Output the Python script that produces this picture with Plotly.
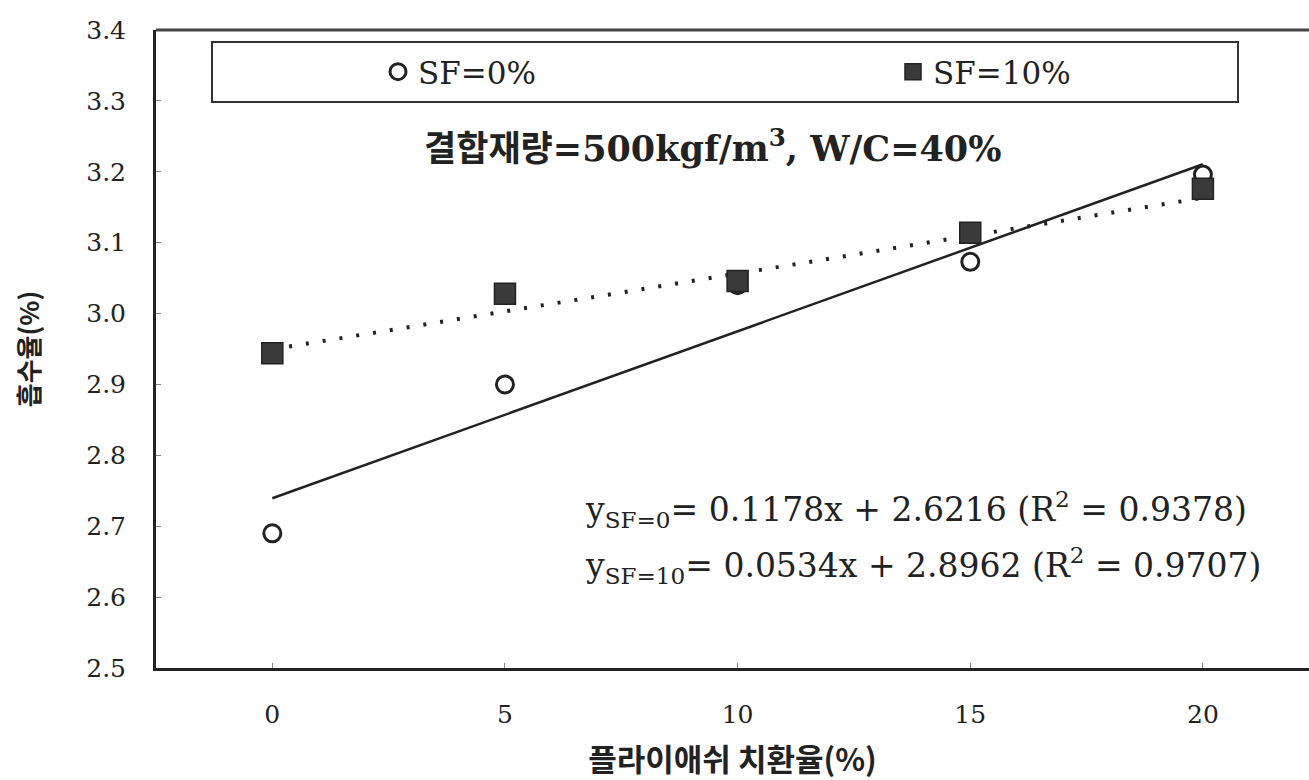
import numpy as np
import plotly.graph_objects as go

# ---- data ----
fa_ratio = [0, 5, 10, 15, 20]                  # 플라이애쉬 치환율 (%)
sf0_values = [2.69, 2.90, 3.04, 3.073, 3.196]   # SF=0%
sf10_values = [2.944, 3.028, 3.046, 3.114, 3.176]  # SF=10%
fit_sf0 = (0.1178, 2.6216)   # slope, intercept (x = index 1..5)
fit_sf10 = (0.0534, 2.8962)
y_ticks = [2.5, 2.6, 2.7, 2.8, 2.9, 3.0, 3.1, 3.2, 3.3, 3.4]
x_ticks = [0, 5, 10, 15, 20]

idx = np.arange(1, len(fa_ratio) + 1)
trend0 = fit_sf0[0] * idx + fit_sf0[1]
trend10 = fit_sf10[0] * idx + fit_sf10[1]

SERIF = "DejaVu Serif, Noto Sans CJK KR"
KR = "Noto Sans CJK KR"
INK = "#222"

fig = go.Figure()
fig.add_trace(go.Scatter(x=fa_ratio, y=trend0, mode="lines",
                         line=dict(color=INK, width=2.5), showlegend=False))
fig.add_trace(go.Scatter(x=fa_ratio, y=trend10, mode="lines",
                         line=dict(color=INK, width=4, dash="3px,14px"), showlegend=False))
fig.add_trace(go.Scatter(x=fa_ratio, y=sf0_values, mode="markers", name="SF=0%",
                         legend="legend",
                         marker=dict(symbol="circle-open", size=17, color=INK,
                                     line=dict(width=3, color=INK))))
fig.add_trace(go.Scatter(x=fa_ratio, y=sf10_values, mode="markers", name="SF=10%",
                         legend="legend2",
                         marker=dict(symbol="square", size=21, color="#3a3a3a",
                                     line=dict(width=1.5, color=INK))))

W, H = 1309, 780
L, R, T, B = 156, 0, 30, 112
pw, ph = W - L - R, H - T - B

def px(xp):
    return (xp - L) / pw

def py(yp):
    return (H - B - yp) / ph

shapes = [
    dict(type="rect", xref="paper", yref="paper",
         x0=px(212), x1=px(1238), y0=py(102), y1=py(42),
         line=dict(color="#333", width=2), fillcolor="rgba(0,0,0,0)"),
    dict(type="line", xref="paper", yref="paper", x0=0, x1=1, y0=1, y1=1,
         line=dict(color="#444", width=3)),
]

annotations = [
    dict(text="<b>결합재량=500kgf/m<sup>3</sup>, W/C=40%</b>", xref="paper", yref="paper",
         x=px(712), y=py(146), showarrow=False, xanchor="center", yanchor="middle",
         font=dict(family=SERIF, size=35, color=INK)),
    dict(text="y<sub>SF=0</sub>= 0.1178x + 2.6216 (R<sup>2</sup> = 0.9378)", xref="paper", yref="paper",
         x=px(583), y=py(509), showarrow=False, xanchor="left", yanchor="middle",
         font=dict(family=SERIF, size=33, color=INK)),
    dict(text="y<sub>SF=10</sub>= 0.0534x + 2.8962 (R<sup>2</sup> = 0.9707)", xref="paper", yref="paper",
         x=px(583), y=py(565), showarrow=False, xanchor="left", yanchor="middle",
         font=dict(family=SERIF, size=33, color=INK)),
]

leg_common = dict(orientation="h", yanchor="middle", xanchor="left",
                  bgcolor="rgba(0,0,0,0)", borderwidth=0,
                  font=dict(family=SERIF, size=31, color=INK))

fig.update_layout(
    width=W, height=H,
    margin=dict(l=L, r=R, t=T, b=B),
    paper_bgcolor="white", plot_bgcolor="white",
    font=dict(family=SERIF, color=INK),
    shapes=shapes,
    annotations=annotations,
    legend=dict(x=px(378), y=py(72), **leg_common),
    legend2=dict(x=px(893), y=py(72), **leg_common),
    xaxis=dict(range=[-2.5, 22.28], tickvals=x_ticks, ticktext=[str(v) for v in x_ticks],
               showgrid=False, zeroline=False, showline=True, linecolor=INK, linewidth=3,
               ticks="inside", ticklen=5, tickwidth=1, tickcolor="#888",
               tickfont=dict(family=SERIF, size=25, color=INK), ticklabelstandoff=22,
               title=dict(text="<b>플라이애쉬 치환율(%)</b>", font=dict(family=KR, size=31, color=INK),
                          standoff=24)),
    yaxis=dict(range=[2.5, 3.4], tickvals=y_ticks, ticktext=[f"{v:.1f}" for v in y_ticks],
               showgrid=False, zeroline=False, showline=True, linecolor=INK, linewidth=3,
               ticks="inside", ticklen=5, tickwidth=1, tickcolor="#888",
               tickfont=dict(family=SERIF, size=25, color=INK), ticklabelstandoff=22,
               title=dict(text="<b>흡수율(%)</b>", font=dict(family=KR, size=26, color=INK),
                          standoff=40)),
)

fig.write_html("out.html")
